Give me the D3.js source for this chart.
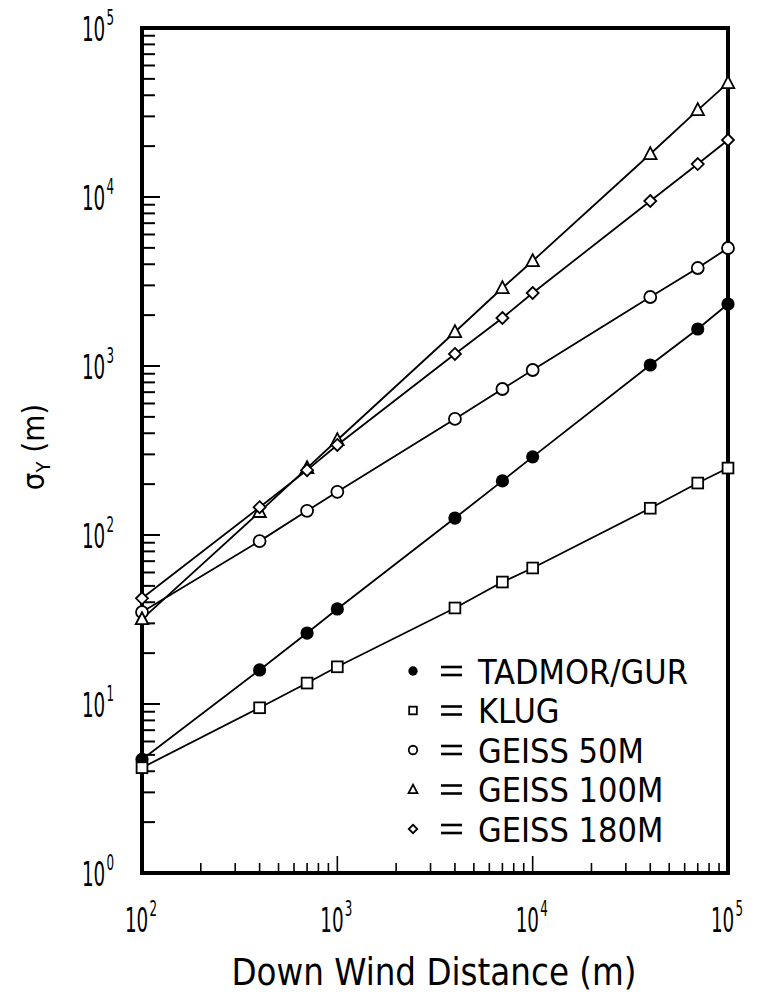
<!DOCTYPE html>
<html>
<head>
<meta charset="utf-8">
<script src="https://cdn.jsdelivr.net/npm/d3@7"></script>
<style>
  html, body { margin: 0; padding: 0; background: #fff; }
  svg { display: block; }
  text { font-family: "DejaVu Sans Condensed", "Liberation Sans Narrow", "DejaVu Sans", sans-serif; fill: #000; }
</style>
</head>
<body>
<svg id="chart" width="757" height="998"></svg>
<script>
// ---- data ----
const distances = [100, 400, 700, 1000, 4000, 7000, 10000, 40000, 70000, 100000];
const tadmorGur = [4.7, 15.9, 26.3, 36.5, 126, 209, 290, 1014, 1656, 2328];
const klug      = [4.2, 9.5, 13.3, 16.6, 37, 52.7, 63.8, 144, 203, 249];
const geiss50   = [35, 92, 139, 180, 486, 731, 947, 2560, 3800, 4990];
const geiss100  = [31.8, 137, 249, 365, 1590, 2895, 4180, 17960, 32700, 47300];
const geiss180  = [42.2, 146, 242, 341, 1178, 1923, 2704, 9470, 15670, 21740];
const seriesNames = ["TADMOR/GUR", "KLUG", "GEISS 50M", "GEISS 100M", "GEISS 180M"];
const xTickExponents = [2, 3, 4, 5];
const yTickExponents = [0, 1, 2, 3, 4, 5];
const xLabel = "Down Wind Distance (m)";

// ---- layout ----
const L = 142, R = 728, T = 28, B = 873;
const svg = d3.select("#chart");
const x = d3.scaleLog().domain([1e2, 1e5]).range([L, R]);
const y = d3.scaleLog().domain([1, 1e5]).range([B, T]);

const series = [
  { name: seriesNames[0], values: tadmorGur, marker: "filled" },
  { name: seriesNames[1], values: klug, marker: "square" },
  { name: seriesNames[2], values: geiss50, marker: "circle" },
  { name: seriesNames[3], values: geiss100, marker: "triangle" },
  { name: seriesNames[4], values: geiss180, marker: "diamond" }
];

// ---- frame ----
svg.append("rect")
  .attr("x", L).attr("y", T).attr("width", R - L).attr("height", B - T)
  .attr("fill", "none").attr("stroke", "#000").attr("stroke-width", 4);

// ---- ticks ----
const xMinor = [], yMinor = [];
[2, 3, 4].forEach(e => { for (let m = 2; m <= 9; m++) xMinor.push(m * Math.pow(10, e)); });
[0, 1, 2, 3, 4].forEach(e => { for (let m = 2; m <= 9; m++) yMinor.push(m * Math.pow(10, e)); });

const tickG = svg.append("g").attr("stroke", "#000");
tickG.selectAll(".xminor").data(xMinor).join("line")
  .attr("x1", d => x(d)).attr("x2", d => x(d))
  .attr("y1", B).attr("y2", B - 10).attr("stroke-width", 1.6);
tickG.selectAll(".xmajor").data(xTickExponents.slice(1, -1)).join("line")
  .attr("x1", d => x(Math.pow(10, d))).attr("x2", d => x(Math.pow(10, d)))
  .attr("y1", B).attr("y2", B - 17).attr("stroke-width", 1.6);
tickG.selectAll(".yminor").data(yMinor).join("line")
  .attr("x1", L).attr("x2", L + 13)
  .attr("y1", d => y(d)).attr("y2", d => y(d)).attr("stroke-width", 2);
tickG.selectAll(".ymajor").data(yTickExponents.slice(1, -1)).join("line")
  .attr("x1", L).attr("x2", L + 18)
  .attr("y1", d => y(Math.pow(10, d))).attr("y2", d => y(Math.pow(10, d))).attr("stroke-width", 2);

// ---- tick labels (one text element each, "10" + superscript) ----
function powLabel(g, tx, ty, anchor, e) {
  const t = g.append("text")
    .attr("transform", `translate(${tx},${ty}) scale(0.6,1)`)
    .attr("text-anchor", anchor).attr("font-size", 34);
  t.append("tspan").text("10");
  t.append("tspan").attr("font-size", 22).attr("dx", 2).attr("dy", -16).text(e);
}
const xl = svg.append("g");
xTickExponents.forEach(e => powLabel(xl, x(Math.pow(10, e)) - 1, 932, "middle", e));
const yl = svg.append("g");
yTickExponents.forEach(e => powLabel(yl, 114, y(Math.pow(10, e)) + 13, "end", e));

// ---- axis titles ----
svg.append("text").attr("x", 434).attr("y", 985).attr("text-anchor", "middle")
  .attr("font-size", 37).attr("textLength", 405).attr("lengthAdjust", "spacingAndGlyphs").text(xLabel);

const yt = svg.append("text").attr("transform", "translate(44,447) rotate(-90)")
  .attr("text-anchor", "middle").attr("font-size", 31);
yt.append("tspan").text("σ");
yt.append("tspan").attr("font-size", 20).attr("dy", 6).text("Y");
yt.append("tspan").attr("dy", -6).text(" (m)");

// ---- lines ----
const line = d3.line().x(d => x(d[0])).y(d => y(d[1]));
svg.append("g").selectAll("path").data(series).join("path")
  .attr("d", s => line(distances.map((d, i) => [d, s.values[i]])))
  .attr("fill", "none").attr("stroke", "#000").attr("stroke-width", 1.8);

// ---- markers ----
function drawMarker(g, type, cx, cy, s) {
  if (type === "filled") {
    g.append("circle").attr("cx", cx).attr("cy", cy).attr("r", s * 0.55).attr("fill", "#000");
  } else if (type === "circle") {
    g.append("circle").attr("cx", cx).attr("cy", cy).attr("r", s * 0.5)
      .attr("fill", "#fff").attr("stroke", "#000").attr("stroke-width", 1.8);
  } else if (type === "square") {
    g.append("rect").attr("x", cx - s * 0.45).attr("y", cy - s * 0.45)
      .attr("width", s * 0.9).attr("height", s * 0.9)
      .attr("fill", "#fff").attr("stroke", "#000").attr("stroke-width", 1.8);
  } else if (type === "triangle") {
    const h = s * 0.95;
    g.append("path").attr("d", `M${cx},${cy - h * 0.6}L${cx + h * 0.55},${cy + h * 0.45}L${cx - h * 0.55},${cy + h * 0.45}Z`)
      .attr("fill", "#fff").attr("stroke", "#000").attr("stroke-width", 1.8);
  } else if (type === "diamond") {
    const r = s * 0.5;
    g.append("path").attr("d", `M${cx},${cy - r}L${cx + r},${cy}L${cx},${cy + r}L${cx - r},${cy}Z`)
      .attr("fill", "#fff").attr("stroke", "#000").attr("stroke-width", 1.8);
  }
}
const mg = svg.append("g");
series.forEach(s => {
  distances.forEach((d, i) => drawMarker(mg, s.marker, x(d), y(s.values[i]), 12));
});

// ---- legend ----
const lg = svg.append("g");
series.forEach((s, i) => {
  const cy = 671 + i * 39.5;
  drawMarker(lg, s.marker, 413, cy, 8.5);
  lg.append("line").attr("x1", 441).attr("x2", 462).attr("y1", cy - 4).attr("y2", cy - 4)
    .attr("stroke", "#000").attr("stroke-width", 2.6);
  lg.append("line").attr("x1", 441).attr("x2", 462).attr("y1", cy + 4).attr("y2", cy + 4)
    .attr("stroke", "#000").attr("stroke-width", 2.6);
  lg.append("text").attr("x", 478).attr("y", cy + 12.5).attr("font-size", 34).text(s.name);
});
</script>
</body>
</html>
